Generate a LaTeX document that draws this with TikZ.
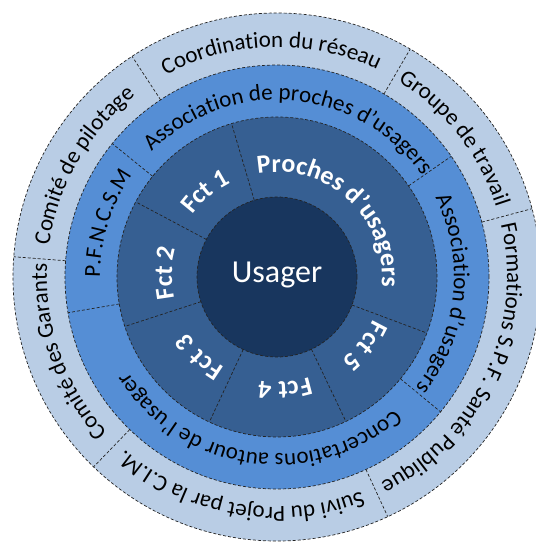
\documentclass[tikz,border=0pt]{standalone}
\usepackage{fontspec}
\setmainfont{Carlito}
\usetikzlibrary{decorations.text}

\definecolor{ringouter}{RGB}{185,205,229}
\definecolor{ringmid}{RGB}{85,142,213}
\definecolor{ringinner}{RGB}{54,95,146}
\definecolor{core}{RGB}{24,54,94}
\definecolor{sepline}{RGB}{35,35,35}

\tikzset{
  sep/.style={draw=sepline, line width=0.7pt, dash pattern=on 3pt off 2pt},
}

% text set clockwise along a circle: radius, middle angle, format, text
\newcommand{\ringlabel}[4]{%
  \path[decorate, decoration={text along path, text align=center, text={|#3|#4}}]
    (#2+90:#1) arc[start angle=#2+90, end angle=#2-90, radius=#1];
}
\newcommand{\outerfmt}{\fontsize{23pt}{23pt}\selectfont\color{black}}
\newcommand{\innerfmt}{\fontsize{26pt}{26pt}\selectfont\bfseries\color{white}}

\begin{document}
\begin{tikzpicture}[x=1pt,y=1pt]
\useasboundingbox (-277,-265) rectangle (259,277);

% rings, from the outside in
\fill[ringouter] (0,0) circle[radius=264pt];
\draw[sep] (0,0) circle[radius=264pt];
\fill[ringmid] (0,0) circle[radius=212pt];
\draw[sep] (0,0) circle[radius=212pt];
\fill[ringinner] (0,0) circle[radius=160pt];
\draw[sep] (0,0) circle[radius=160pt];
\fill[core] (0,0) circle[radius=80pt];
\draw[sep] (0,0) circle[radius=80pt];

% separators of the outer ring
\foreach \a in {123.3,59.7,15,-65.2,226,175.6}
  \draw[sep] (\a:212pt) -- (\a:264pt);
% separators of the middle ring
\foreach \a in {141,34.7,-39.5,189.7}
  \draw[sep] (\a:160pt) -- (\a:212pt);
% separators of the inner ring
\foreach \a in {106.5,152,198,245,295.5,339.5}
  \draw[sep] (\a:80pt) -- (\a:160pt);

% centre
\node[text=white, font=\fontsize{32pt}{32pt}\selectfont] (usager) at (0,2) {Usager};

% outer ring labels
\ringlabel{230pt}{91.5}{\outerfmt}{Coordination du réseau}
\ringlabel{230pt}{38}{\outerfmt}{Groupe de travail}
\ringlabel{230pt}{-25}{\outerfmt}{Formations S.P.F. Santé Publique}
\ringlabel{230pt}{260}{\outerfmt}{Suivi du Projet par la C.I.M.}
\ringlabel{230pt}{199.6}{\outerfmt}{Comité des Garants}
\ringlabel{230pt}{150}{\outerfmt}{Comité de pilotage}

% middle ring labels
\ringlabel{177pt}{85}{\outerfmt}{Association de proches d’usagers}
\ringlabel{177pt}{-6}{\outerfmt}{Association d’usagers}
\ringlabel{177pt}{262}{\outerfmt}{Concertations autour de l’usager}
\ringlabel{177pt}{162.5}{\outerfmt}{P.F.N.C.S.M}

% inner ring labels
\ringlabel{105pt}{47.5}{\innerfmt}{Proches d’usagers}
\ringlabel{105pt}{130}{\innerfmt}{Fct 1}
\ringlabel{105pt}{178}{\innerfmt}{Fct 2}
\ringlabel{105pt}{226}{\innerfmt}{Fct 3}
\ringlabel{105pt}{274}{\innerfmt}{Fct 4}
\ringlabel{105pt}{322}{\innerfmt}{Fct 5}
\end{tikzpicture}
\end{document}
